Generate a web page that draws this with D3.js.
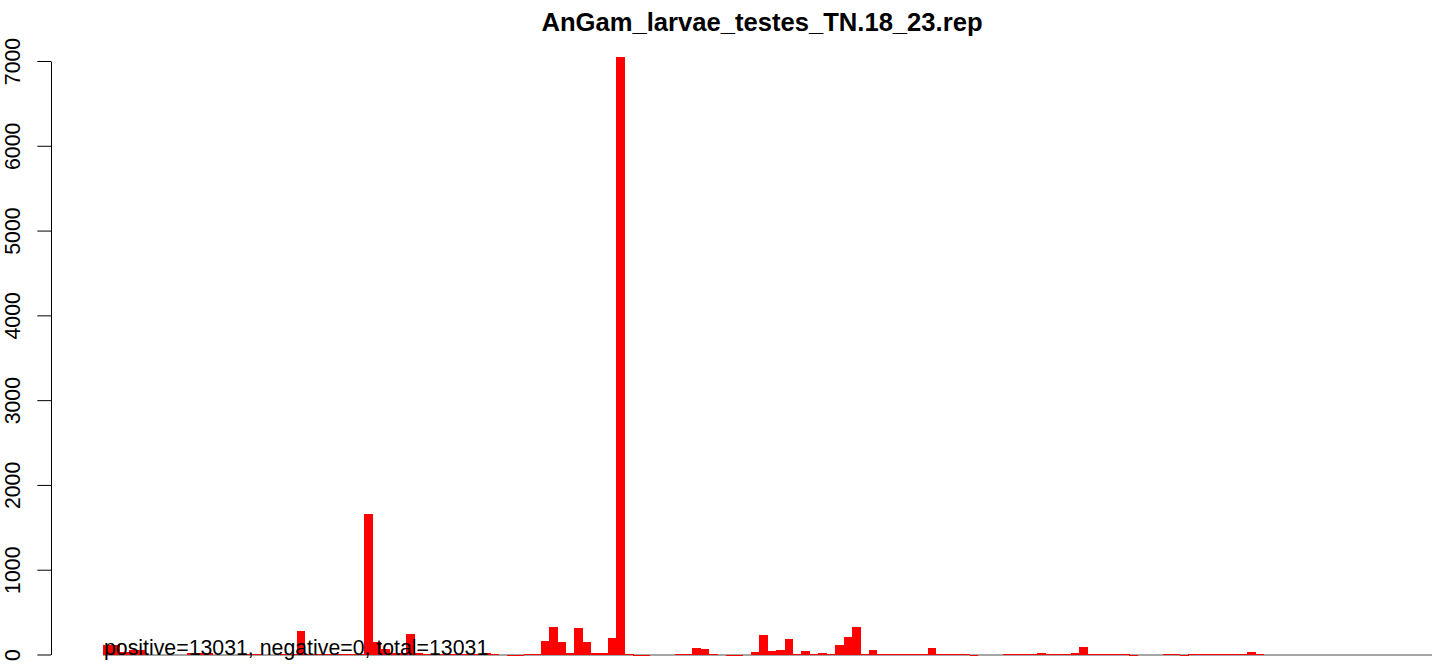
<!DOCTYPE html>
<html>
<head>
<meta charset="utf-8">
<script src="https://cdn.jsdelivr.net/npm/d3@7"></script>
<style>
  html, body { margin: 0; padding: 0; background: #fff; }
  svg { display: block; font-family: "Liberation Sans", Arial, Helvetica, sans-serif; }
</style>
</head>
<body>
<svg id="chart" width="1453" height="666"></svg>
<script>
// ---- data ----
const title = "AnGam_larvae_testes_TN.18_23.rep";
const summaryText = "positive=13031, negative=0, total=13031";
const yTicks = [0, 1000, 2000, 3000, 4000, 5000, 6000, 7000];
// one value per bin; null = no bar drawn
const counts = [
  110, 110, 30, 50, 50, null, null, null, null, null,      // 0-9
  15, 15, 15, null, null, null, 3, 3, 3, null,             // 10-19
  null, 3, 3, 275, 3, 3, 3, 3, 3, 3,                       // 20-29
  3, 1655, 145, 60, 20, 20, 239, 15, 3, 3,                 // 30-39
  3, 3, 3, 3, 3, 15, 3, null, 0, 0,                        // 40-49
  3, 3, 157, 322, 145, 20, 307, 145, 15, 15,               // 50-59
  192, 7050, 3, 0, 0, null, null, null, 3, 3,              // 60-69
  74, 63, 3, null, 0, 0, null, 27, 228, 39,                // 70-79
  51, 181, 3, 39, 3, 15, 3, 110, 204, 322,                 // 80-89
  3, 51, 3, 3, 3, 3, 3, 3, 74, 3,                          // 90-99
  3, 3, 3, 0, null, null, null, 3, 3, 3,                   // 100-109
  3, 15, 3, 3, 3, 15, 86, 3, 3, 3,                         // 110-119
  3, 3, 0, null, null, null, 3, 3, 0, 3,                   // 120-129
  3, 3, 3, 3, 3, 3, 27, 3, null, null,                     // 130-139
  null, null, null, null, null, null, null, null, null, null, // 140-149
  null, null, null, null, null, null, null, null           // 150-157
];

// ---- drawing ----
const svg = d3.select("#chart");
const baseY = 655;

const x = d3.scaleBand()
  .domain(d3.range(counts.length))
  .range([103.3, 1432.3])
  .paddingInner(0).paddingOuter(0);

const y = d3.scaleLinear()
  .domain([0, 7000])
  .range([654.5, 61]);

// title
svg.append("text")
  .attr("x", 762)
  .attr("y", 31)
  .attr("text-anchor", "middle")
  .attr("font-weight", "bold")
  .attr("font-size", "25.6px")
  .attr("fill", "#000")
  .text(title);

// gray baseline
svg.append("rect")
  .attr("x", x.range()[0])
  .attr("y", 654)
  .attr("width", x.range()[1] - x.range()[0])
  .attr("height", 2)
  .attr("fill", "#a6a6a6")
  .attr("shape-rendering", "crispEdges");

// bars
const barData = counts.map((v, i) => ({ i, v })).filter(d => d.v !== null);
svg.append("g")
  .attr("shape-rendering", "crispEdges")
  .selectAll("rect")
  .data(barData)
  .join("rect")
  .attr("x", d => x(d.i))
  .attr("width", x.bandwidth() + 0.3)
  .attr("y", d => d.v > 0 ? Math.min(y(d.v), baseY - 1) : baseY)
  .attr("height", d => d.v > 0 ? baseY - Math.min(y(d.v), baseY - 1) : 1)
  .attr("fill", "#ff0000");

// y axis
const yAxis = d3.axisLeft(y)
  .tickValues(yTicks)
  .tickFormat(d3.format("d"))
  .tickSize(13.7)
  .tickSizeOuter(0);

const gy = svg.append("g")
  .attr("transform", "translate(51,0)")
  .call(yAxis);
gy.select(".domain").attr("stroke", "#000").attr("stroke-width", 1);
gy.selectAll(".tick line").attr("stroke", "#000").attr("stroke-width", 1);
gy.selectAll(".tick text")
  .attr("transform", "rotate(-90)")
  .attr("x", 0)
  .attr("y", -31)
  .attr("dy", 0)
  .attr("text-anchor", "middle")
  .attr("font-size", "21.3px")
  .attr("font-family", "'Liberation Sans', Arial, sans-serif")
  .attr("fill", "#000");

// summary text
svg.append("text")
  .attr("x", 104)
  .attr("y", 655)
  .attr("text-anchor", "start")
  .attr("font-size", "21.3px")
  .attr("fill", "#000")
  .text(summaryText);
</script>
</body>
</html>
